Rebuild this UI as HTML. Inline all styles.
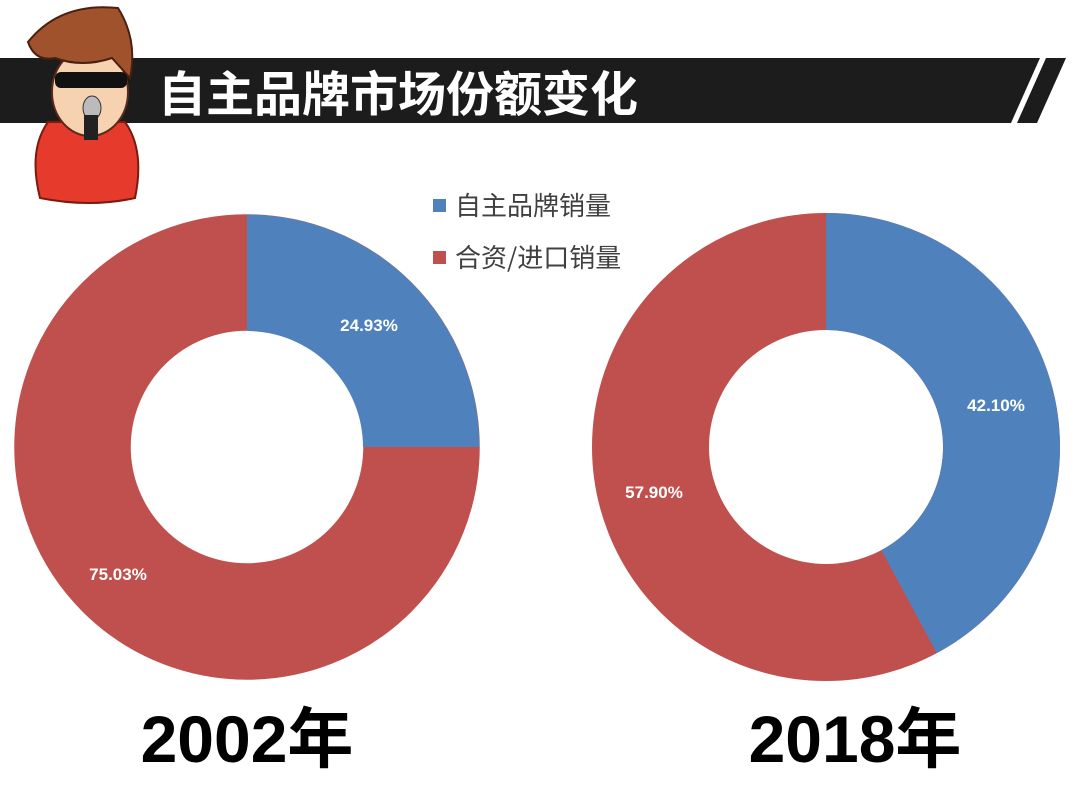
<!DOCTYPE html>
<html><head><meta charset="utf-8"><style>
body{margin:0;width:1080px;height:810px;background:#fff;overflow:hidden;position:relative;font-family:"Liberation Sans","Noto Sans CJK SC",sans-serif}
</style></head><body>
<svg width="1080" height="810" style="position:absolute;left:0;top:0">
<polygon points="0,58 1040,58 1011,123 0,123" fill="#1c1c1c"/>
<polygon points="1046,58 1066,58 1037,123 1017,123" fill="#1c1c1c"/>
<text x="158" y="111" font-size="48" font-weight="bold" fill="#fff" font-family="Noto Sans CJK SC,sans-serif">自主品牌市场份额变化</text>
<!-- character -->
<path d="M40,198 Q28,150 48,122 L125,122 Q145,150 135,198 Q90,208 40,198Z" fill="#e53a2c" stroke="#7a1a10" stroke-width="2"/>
<ellipse cx="90" cy="92" rx="38" ry="44" fill="#f6d2b0" stroke="#5a2a1a" stroke-width="2"/>
<path d="M28,42 Q60,2 118,8 Q138,40 130,78 L112,58 Q82,68 55,58 Q35,62 28,42Z" fill="#a0522d" stroke="#4a2010" stroke-width="2"/>
<rect x="55" y="72" width="72" height="16" rx="6" fill="#111"/>
<ellipse cx="92" cy="108" rx="9" ry="12" fill="#bbb" stroke="#333"/>
<rect x="84" y="115" width="14" height="25" fill="#222"/>
<!-- donut 1 -->
<g transform="translate(247,447)">
<circle r="174.5" fill="none" stroke="#c0504d" stroke-width="116.5"/>
<path d="M0,-232.5 A232.5,232.5 0 0 1 232.5,0 L116,0 A116,116 0 0 0 0,-116Z" fill="#4f81bd"/>
</g>
<!-- donut 2 -->
<g transform="translate(826,447)">
<circle r="175.5" fill="none" stroke="#c0504d" stroke-width="117"/>
<path d="M0,-234 A234,234 0 0 1 110.8,206.1 L55.4,103.1 A117,117 0 0 0 0,-117Z" fill="#4f81bd"/>
</g>
<g font-size="17" font-weight="bold" fill="#fff" text-anchor="middle">
<text x="369" y="331">24.93%</text>
<text x="118" y="580">75.03%</text>
<text x="996" y="411">42.10%</text>
<text x="654" y="498">57.90%</text>
</g>
<rect x="433" y="199" width="13" height="13" fill="#4f81bd"/>
<rect x="433" y="251" width="13" height="13" fill="#c0504d"/>
<g font-size="26" fill="#404040" font-family="Noto Sans CJK SC,sans-serif">
<text x="455" y="215">自主品牌销量</text>
<text x="455" y="267">合资/进口销量</text>
</g>
<g font-size="66" font-weight="bold" fill="#000" text-anchor="middle" font-family="Liberation Sans,Noto Sans CJK SC,sans-serif">
<text x="247" y="762">2002年</text>
<text x="855" y="762">2018年</text>
</g>
</svg>
</body></html>
